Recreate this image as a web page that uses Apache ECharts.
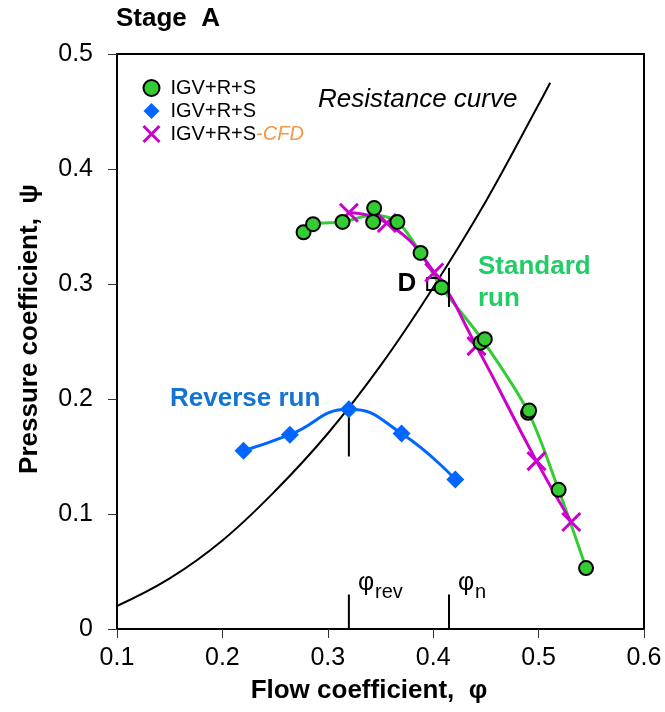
<!DOCTYPE html>
<html>
<head>
<meta charset="utf-8">
<script src="https://cdn.jsdelivr.net/npm/echarts@6/dist/echarts.min.js"></script>
<style>
  html, body { margin: 0; padding: 0; background: #fff; }
  #chart { width: 665px; height: 712px; }
</style>
</head>
<body>
<div id="chart"></div>
<script>
// Standard run, measured points (IGV+R+S)
const stdPhi = [0.277, 0.286, 0.314, 0.344, 0.343, 0.366, 0.388, 0.408, 0.445, 0.449, 0.490, 0.491, 0.519, 0.545];
const stdPsi = [0.345, 0.352, 0.354, 0.366, 0.354, 0.354, 0.327, 0.297, 0.249, 0.252, 0.188, 0.190, 0.121, 0.053];

// Standard run, smoothed characteristic
const stdCurvePhi = [0.277, 0.286, 0.314, 0.343, 0.366, 0.388, 0.408, 0.447, 0.490, 0.519, 0.545];
const stdCurvePsi = [0.345, 0.352, 0.354, 0.360, 0.354, 0.327, 0.297, 0.251, 0.189, 0.121, 0.053];

// Standard run, CFD prediction
const cfdPhi = [0.320, 0.356, 0.401, 0.441, 0.498, 0.531];
const cfdPsi = [0.362, 0.353, 0.310, 0.246, 0.146, 0.093];

// Reverse run (IGV+R+S)
const revPhi = [0.220, 0.264, 0.320, 0.370, 0.421];
const revPsi = [0.155, 0.169, 0.191, 0.170, 0.130];

// Resistance curve of the test rig
const resPhi = [0.100, 0.150, 0.200, 0.250, 0.300, 0.350, 0.400, 0.450, 0.500, 0.511];
const resPsi = [0.020, 0.044, 0.077, 0.120, 0.170, 0.229, 0.297, 0.372, 0.456, 0.475];

// Design point D
const pointD = [0.400, 0.300];

// Short vertical markers: flow coefficient and psi span
const markPhi = [0.320, 0.320, 0.415, 0.415];
const markPsiFrom = [0.000, 0.150, 0.000, 0.280];
const markPsiTo = [0.030, 0.191, 0.030, 0.314];

// Axis ticks
const xTickLabels = ['0.1', '0.2', '0.3', '0.4', '0.5', '0.6'];
const yTickLabels = ['0', '0.1', '0.2', '0.3', '0.4', '0.5'];

const FONT = '"Liberation Sans", Arial, sans-serif';
const GREEN = '#33cc33';
const MAGENTA = '#cc00cc';
const BLUE = '#0066ff';

const zip = (a, b) => a.map((v, i) => [v, b[i]]);

const markerSeries = markPhi.map((phi, i) => ({
  type: 'line',
  silent: true,
  symbol: 'none',
  data: [[phi, markPsiFrom[i]], [phi, markPsiTo[i]]],
  lineStyle: { color: '#000', width: 2 },
  z: 4
}));

const chart = echarts.init(document.getElementById('chart'), null, { renderer: 'canvas' });

chart.setOption({
  animation: false,
  backgroundColor: '#fff',
  textStyle: { fontFamily: FONT },
  grid: {
    left: 117, right: 21, top: 54, bottom: 83,
    show: true, borderColor: '#000', borderWidth: 2,
    outerBoundsMode: 'none'
  },
  xAxis: {
    type: 'value', min: 0.1, max: 0.6, interval: 0.1,
    axisLine: { lineStyle: { color: '#000', width: 2 } },
    axisTick: { show: true, length: 9, lineStyle: { color: '#333', width: 1 } },
    splitLine: { show: false },
    axisLabel: {
      fontSize: 25, color: '#000', margin: 17, fontFamily: FONT,
      formatter: (v) => xTickLabels[Math.round((v - 0.1) * 10)]
    }
  },
  yAxis: {
    type: 'value', min: 0, max: 0.5, interval: 0.1,
    axisLine: { lineStyle: { color: '#000', width: 2 } },
    axisTick: { show: true, length: 9, lineStyle: { color: '#333', width: 1 } },
    splitLine: { show: false },
    axisLabel: {
      fontSize: 25, color: '#000', margin: 24, fontFamily: FONT,
      formatter: (v) => yTickLabels[Math.round(v * 10)]
    }
  },
  legend: {
    orient: 'vertical', left: 137, top: 73,
    itemWidth: 16, itemHeight: 16, itemGap: 3,
    data: [
      { name: 'std' },
      { name: 'rev' },
      { name: 'cfd', itemStyle: { borderWidth: 3 } }
    ],
    formatter: (name) => name === 'cfd' ? '{a|IGV+R+S}{b|-CFD}' : '{a|IGV+R+S}',
    textStyle: {
      padding: [0, 0, 0, 6],
      rich: {
        a: { fontSize: 20, color: '#000', fontFamily: FONT },
        b: { fontSize: 20, color: '#f79646', fontStyle: 'italic', fontFamily: FONT }
      }
    }
  },
  series: [
    {
      name: 'resistance', type: 'line', silent: true, symbol: 'none', smooth: 0.4,
      data: zip(resPhi, resPsi),
      lineStyle: { color: '#000', width: 2 }, z: 2
    },
    {
      name: 'revCurve', type: 'line', silent: true, symbol: 'none', smooth: 0.5,
      data: zip(revPhi, revPsi),
      lineStyle: { color: BLUE, width: 3 }, z: 3
    },
    {
      name: 'stdCurve', type: 'line', silent: true, symbol: 'none', smooth: 0.3,
      data: zip(stdCurvePhi, stdCurvePsi),
      lineStyle: { color: GREEN, width: 3 }, z: 3
    },
    {
      name: 'cfdCurve', type: 'line', silent: true, symbol: 'none', smooth: 0.5,
      data: zip(cfdPhi, cfdPsi),
      lineStyle: { color: MAGENTA, width: 3 }, z: 3
    },
    {
      name: 'D', type: 'scatter', silent: true,
      symbol: 'rect', symbolSize: 12,
      data: [pointD],
      itemStyle: { color: 'rgba(255,255,255,0)', borderColor: '#000', borderWidth: 2, opacity: 1 },
      label: {
        show: true, position: 'left', distance: 10, formatter: 'D',
        fontSize: 26, fontWeight: 'bold', color: '#000', fontFamily: FONT
      },
      z: 4
    },
    {
      name: 'rev', type: 'scatter', symbol: 'diamond', symbolSize: 18,
      data: zip(revPhi, revPsi),
      itemStyle: { color: BLUE, opacity: 1 }, z: 5
    },
    ...markerSeries,
    {
      name: 'cfd', type: 'scatter',
      symbol: 'path://M0,0L10,10M10,0L0,10', symbolSize: 18,
      data: zip(cfdPhi, cfdPsi),
      itemStyle: { color: 'rgba(0,0,0,0)', borderColor: MAGENTA, borderWidth: 3, opacity: 1 }, z: 6
    },
    {
      name: 'std', type: 'scatter', symbol: 'circle', symbolSize: 14,
      data: zip(stdPhi, stdPsi),
      itemStyle: { color: GREEN, borderColor: '#000', borderWidth: 2, opacity: 1 }, z: 7
    }
  ],
  graphic: [
    { type: 'text', left: 116, top: 6,
      style: { text: 'Stage  A', font: 'bold 26px ' + FONT, fill: '#000' } },
    { type: 'text', x: 369, y: 691,
      style: { text: 'Flow coefficient,  φ', font: 'bold 26px ' + FONT, fill: '#000',
               textAlign: 'center', textVerticalAlign: 'middle' } },
    { type: 'text', x: 30, y: 329, rotation: Math.PI / 2,
      style: { text: 'Pressure coefficient,  ψ', font: 'bold 26px ' + FONT, fill: '#000',
               textAlign: 'center', textVerticalAlign: 'middle' } },
    { type: 'text', x: 318, y: 100,
      style: { text: 'Resistance curve', font: 'italic 26px ' + FONT, fill: '#000',
               textAlign: 'left', textVerticalAlign: 'middle' } },
    { type: 'text', x: 170, y: 399,
      style: { text: 'Reverse run', font: 'bold 26px ' + FONT, fill: '#1474d2',
               textAlign: 'left', textVerticalAlign: 'middle' } },
    { type: 'text', x: 478, y: 267,
      style: { text: 'Standard', font: 'bold 26px ' + FONT, fill: '#22cc66',
               textAlign: 'left', textVerticalAlign: 'middle' } },
    { type: 'text', x: 478, y: 299,
      style: { text: 'run', font: 'bold 26px ' + FONT, fill: '#22cc66',
               textAlign: 'left', textVerticalAlign: 'middle' } },
    { type: 'text', x: 358, y: 583,
      style: { text: 'φ', font: '25px ' + FONT, fill: '#000',
               textAlign: 'left', textVerticalAlign: 'middle' } },
    { type: 'text', x: 375, y: 592,
      style: { text: 'rev', font: '20px ' + FONT, fill: '#000',
               textAlign: 'left', textVerticalAlign: 'middle' } },
    { type: 'text', x: 458, y: 583,
      style: { text: 'φ', font: '25px ' + FONT, fill: '#000',
               textAlign: 'left', textVerticalAlign: 'middle' } },
    { type: 'text', x: 475, y: 592,
      style: { text: 'n', font: '20px ' + FONT, fill: '#000',
               textAlign: 'left', textVerticalAlign: 'middle' } }
  ]
});
</script>
</body>
</html>
